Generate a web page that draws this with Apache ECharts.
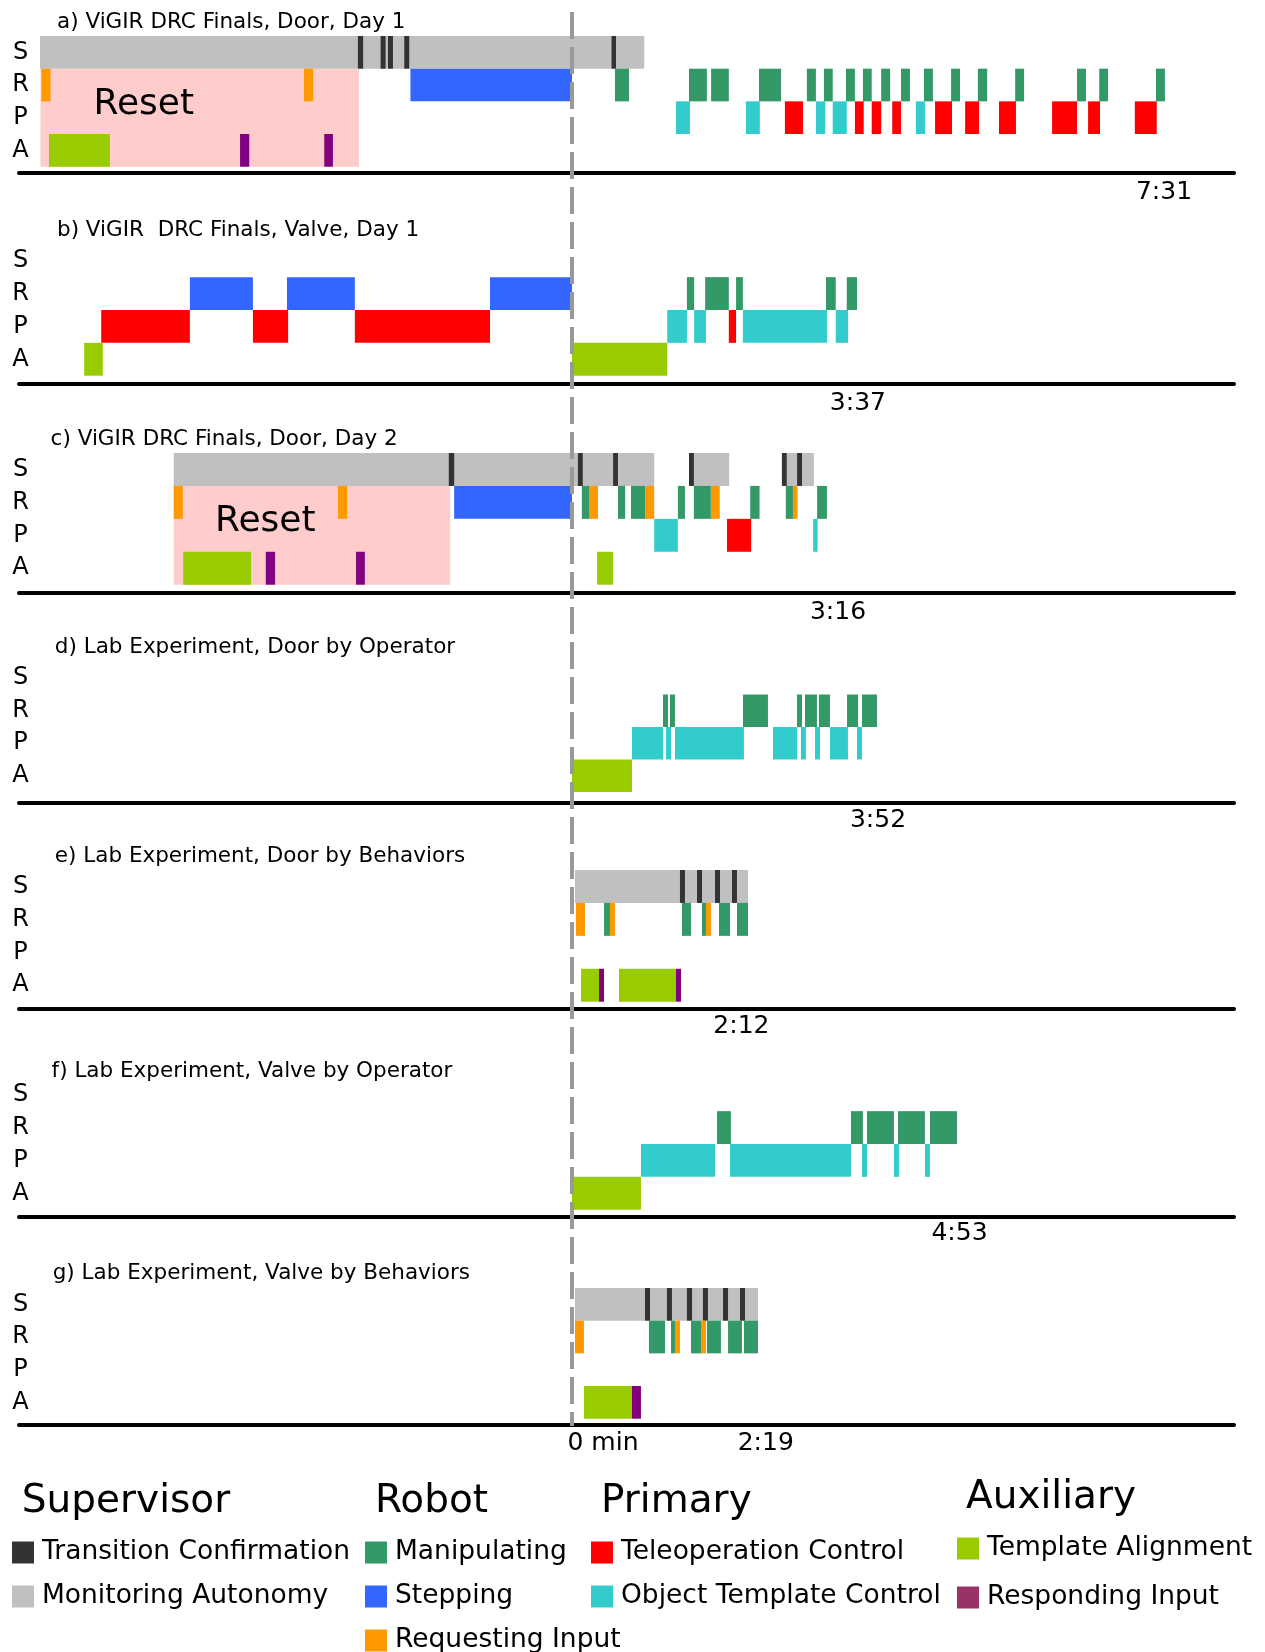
<!DOCTYPE html>
<html lang="en">
<head>
<meta charset="UTF-8">
<title>Operator timelines</title>
<script src="https://cdn.jsdelivr.net/npm/echarts@6/dist/echarts.min.js"></script>
</head>
<body style="margin:0">
<div id="container" style="width:1265px;height:1652px"></div>
<script>
// times in seconds, 0 = dashed line
var kindKeys = ['confirm', 'monitoring', 'manipulating', 'stepping', 'requesting', 'teleop', 'template', 'alignment', 'responding'];
var kindNames = ['Transition Confirmation', 'Monitoring Autonomy', 'Manipulating', 'Stepping', 'Requesting Input',
  'Teleoperation Control', 'Object Template Control', 'Template Alignment', 'Responding Input'];
var kindRows = [3, 3, 2, 2, 2, 1, 1, 0, 0]; // A=0 P=1 R=2 S=3
var barColors = ['#333333', '#c0c0c0', '#339966', '#3366ff', '#ff9900', '#ff0000', '#33cccc', '#99cc00', '#800080'];
var legendColors = ['#333333', '#c0c0c0', '#339966', '#3366ff', '#ff9900', '#ff0000', '#33cccc', '#99cc00', '#993366'];
var rowLabels = ['A', 'P', 'R', 'S'];

var panelTitles = ['a) ViGIR DRC Finals, Door, Day 1', 'b) ViGIR  DRC Finals, Valve, Day 1', 'c) ViGIR DRC Finals, Door, Day 2',
  'd) Lab Experiment, Door by Operator', 'e) Lab Experiment, Door by Behaviors', 'f) Lab Experiment, Valve by Operator',
  'g) Lab Experiment, Valve by Behaviors'];
var endLabelText = [['7:31'], ['3:37'], ['3:16'], ['3:52'], ['2:12'], ['4:53'], ['0 min', '2:19']];
var endLabelAt = [[450.7], [217.7], [202.5], [233], [129], [295], [23.6, 147.5]];

var doorDay1 = [
  ['monitoring', -405, 55],
  ['confirm', -163, -159], ['confirm', -145.7, -141.9], ['confirm', -140.1, -136.3], ['confirm', -127.7, -123.9], ['confirm', 30.1, 33.5],
  ['requesting', -404, -397], ['requesting', -204, -197],
  ['stepping', -123, 0],
  ['manipulating', 32.7, 43.4], ['manipulating', 89.1, 102.7], ['manipulating', 105.9, 119.4], ['manipulating', 142.4, 159.2],
  ['manipulating', 178.8, 185.7], ['manipulating', 191.8, 198.5], ['manipulating', 208.6, 215.4], ['manipulating', 221.5, 228.2],
  ['manipulating', 235.4, 242.2], ['manipulating', 250.5, 257.3], ['manipulating', 268, 274.8], ['manipulating', 288.6, 295.4],
  ['manipulating', 309, 316.1], ['manipulating', 337.4, 344.2], ['manipulating', 384.5, 391.3], ['manipulating', 401.4, 408.1],
  ['manipulating', 444.6, 451.4],
  ['template', 79.1, 89.8], ['template', 132.4, 143], ['template', 185.7, 192.8], ['template', 198.5, 209.2], ['template', 261.8, 268.7],
  ['teleop', 162.1, 175.9], ['teleop', 215.4, 222.1], ['teleop', 228.2, 235.4], ['teleop', 243.8, 250.5], ['teleop', 276.4, 289.3],
  ['teleop', 299.3, 309.9], ['teleop', 325.1, 338], ['teleop', 365.5, 384.5], ['teleop', 392.9, 402], ['teleop', 428.5, 445.2],
  ['alignment', -398.2, -351.8],
  ['responding', -252.7, -245.7], ['responding', -188.6, -182]
];
var valveDay1 = [
  ['stepping', -290.9, -242.9], ['stepping', -217, -165.3], ['stepping', -62.4, 0],
  ['teleop', -358.4, -290.9], ['teleop', -242.9, -216.1], ['teleop', -165.3, -62.4], ['teleop', 119.4, 124.9],
  ['alignment', -371.4, -357.2], ['alignment', 0, 72.5],
  ['manipulating', 87.5, 93], ['manipulating', 101.4, 119.4], ['manipulating', 124.9, 130.1], ['manipulating', 193.4, 200.8], ['manipulating', 209.2, 217],
  ['template', 72.5, 87.5], ['template', 93, 102], ['template', 130.1, 194.1], ['template', 200.8, 210.2]
];
var doorDay2 = [
  ['monitoring', -303.2, 62.6], ['monitoring', 89.5, 119.7], ['monitoring', 160.5, 184.2],
  ['confirm', -93.8, -89.7], ['confirm', 4.5, 8.2], ['confirm', 31.3, 35], ['confirm', 89.1, 92.8], ['confirm', 159.8, 163.5], ['confirm', 171.4, 175.1],
  ['requesting', -303.2, -296.3], ['requesting', -178.1, -171.2], ['requesting', 13.3, 19.8], ['requesting', 55.8, 62.6],
  ['requesting', 105.7, 112.5], ['requesting', 168.2, 171.7],
  ['stepping', -89.7, 0],
  ['manipulating', 7.5, 13.3], ['manipulating', 35, 40.5], ['manipulating', 44.9, 55.8], ['manipulating', 80.6, 86],
  ['manipulating', 92.8, 105.7], ['manipulating', 135.7, 142.8], ['manipulating', 162.8, 168.2], ['manipulating', 186.6, 194.1],
  ['template', 62.6, 80.6], ['template', 183.6, 187],
  ['teleop', 118, 136.4],
  ['alignment', -296, -244.3], ['alignment', 19.1, 31.3],
  ['responding', -233.1, -226], ['responding', -164.4, -157.7]
];
var doorOperator = [
  ['alignment', 0, 45.7],
  ['template', 45.7, 69.3], ['template', 71.6, 75.4], ['template', 78.4, 130.9], ['template', 153, 171.5],
  ['template', 174.3, 178.1], ['template', 185, 188.8], ['template', 196.4, 210.1], ['template', 217, 220.8],
  ['manipulating', 69.3, 73.1], ['manipulating', 74.6, 78.4], ['manipulating', 130.2, 149.2], ['manipulating', 171.3, 175.1],
  ['manipulating', 177.4, 186.5], ['manipulating', 188, 196.4], ['manipulating', 209.4, 217.8], ['manipulating', 220.8, 232.2]
];
var doorBehaviors = [
  ['monitoring', 2.3, 134],
  ['confirm', 82.2, 86], ['confirm', 95.2, 99], ['confirm', 108.9, 112.7], ['confirm', 121.8, 125.6],
  ['requesting', 3, 9.9], ['requesting', 28.9, 32.7], ['requesting', 102, 105.8],
  ['manipulating', 24.4, 28.9], ['manipulating', 83.7, 90.6], ['manipulating', 99, 102], ['manipulating', 111.9, 120.3], ['manipulating', 125.6, 134],
  ['alignment', 6.9, 20.6], ['alignment', 35.8, 79.2],
  ['responding', 20.6, 24.4], ['responding', 79.2, 83]
];
var valveOperator = [
  ['alignment', 0, 52.5],
  ['template', 52.5, 108.9], ['template', 120.3, 212.4], ['template', 220.8, 224.6], ['template', 245.1, 248.9], ['template', 268.7, 272.5],
  ['manipulating', 110.4, 121], ['manipulating', 212.4, 221.5], ['manipulating', 224.6, 245.1], ['manipulating', 248.2, 268.7], ['manipulating', 272.5, 293.1]
];
var valveBehaviors = [
  ['monitoring', 2.3, 141.6],
  ['confirm', 55.6, 59.4], ['confirm', 72.3, 76.1], ['confirm', 87.5, 91.4], ['confirm', 99.7, 103.5], ['confirm', 115, 118.8], ['confirm', 127.9, 131.7],
  ['requesting', 2.3, 9.1], ['requesting', 78.4, 82.2], ['requesting', 98.2, 102],
  ['manipulating', 58.6, 70.8], ['manipulating', 75.4, 78.4], ['manipulating', 90.6, 98.2], ['manipulating', 102.8, 113.4],
  ['manipulating', 118.8, 129.4], ['manipulating', 130.9, 141.6],
  ['alignment', 9.1, 45.7],
  ['responding', 45.7, 52.5]
];
// [start, end, label start]
var resetDoorDay1 = [-404.6, -162.2, -363.5];
var resetDoorDay2 = [-303.2, -92.7, -271];

var panels = [doorDay1, valveDay1, doorDay2, doorOperator, doorBehaviors, valveOperator, valveBehaviors];
var resets = [resetDoorDay1, null, resetDoorDay2, null, null, null, null];

// layout (px)
var tops = [36, 244.3, 453, 662, 870, 1078.3, 1288];
var heights = [130.7, 131.4, 131.7, 130, 131.7, 131.4, 130.7];
var lineOffsets = [5.6, 8, 7.6, 10.5, 6.6, 7, 5.6];
var labelMargins = [7.5, 7, 7.5, 5.5, 5.7, 4.5, 6.4];
var titleLeft = [57, 57, 50.6, 54.8, 54.8, 51.6, 52.7];
var titleTop = [11, 219.5, 428.5, 636.6, 845, 1060, 1262];
var X_MIN = -421, X_MAX = 504;
var FONT = 'DejaVu Sans';

var myChart = echarts.init(document.getElementById('container'));

function renderBar(params, api) {
  var s = api.coord([api.value(0), api.value(2)]);
  var e = api.coord([api.value(1), api.value(2)]);
  var h = api.size([0, 1])[1];
  return {
    type: 'rect',
    shape: { x: s[0], y: s[1] - h / 2, width: e[0] - s[0], height: h },
    style: { fill: barColors[api.value(3)] }
  };
}

function renderReset(params, api) {
  var h = api.size([0, 1])[1];
  var topLeft = api.coord([api.value(0), 2]);
  var bottomRight = api.coord([api.value(1), 0]);
  var y0 = topLeft[1] - h / 2;
  var y1 = bottomRight[1] + h / 2;
  var tx = api.coord([api.value(3), 1])[0];
  return {
    type: 'group',
    children: [
      { type: 'rect', shape: { x: topLeft[0], y: y0, width: bottomRight[0] - topLeft[0], height: y1 - y0 }, style: { fill: '#ffcccc' } },
      { type: 'text', x: tx - 1, y: topLeft[1] + h / 2 + 3, style: { text: 'Reset', fontSize: 36, fontFamily: FONT, fill: '#000', align: 'left', verticalAlign: 'middle' } }
    ]
  };
}

var grids = [], xAxes = [], yAxes = [], series = [], titles = [];
panels.forEach(function (items, i) {
  grids.push({ left: 19, right: 31, top: tops[i], height: heights[i] });
  var texts = endLabelText[i];
  var at = endLabelAt[i];
  xAxes.push({
    gridIndex: i, type: 'value', min: X_MIN, max: X_MAX, offset: lineOffsets[i],
    axisLine: { show: true, onZero: false, lineStyle: { color: '#000', width: 4 } },
    axisTick: { show: false }, splitLine: { show: false },
    axisLabel: {
      customValues: at, color: '#000', fontSize: 25, fontFamily: FONT, margin: labelMargins[i],
      formatter: function (v) { return texts[at.indexOf(v)]; }
    }
  });
  yAxes.push({
    gridIndex: i, type: 'category', data: rowLabels,
    axisLine: { show: false }, axisTick: { show: false }, splitLine: { show: false },
    axisLabel: { interval: 0, color: '#000', fontSize: 24, fontFamily: FONT, align: 'center', margin: -1.5, padding: [5, 0, 0, 0] }
  });
  if (resets[i]) {
    var r = resets[i];
    series.push({
      type: 'custom', xAxisIndex: i, yAxisIndex: i, z: 1, silent: true,
      data: [[r[0], r[1], 0, r[2]]], encode: { x: [0, 1, 3], y: 2 }, renderItem: renderReset
    });
  }
  var rows = items.map(function (d) {
    var k = kindKeys.indexOf(d[0]);
    return [d[1], d[2], kindRows[k], k];
  }).sort(function (a, b) { return (a[3] === 1 ? 0 : 1) - (b[3] === 1 ? 0 : 1); });
  series.push({
    type: 'custom', xAxisIndex: i, yAxisIndex: i, z: 2, silent: true,
    data: rows, encode: { x: [0, 1], y: 2 }, renderItem: renderBar
  });
  titles.push({
    text: panelTitles[i], left: titleLeft[i], top: titleTop[i], padding: 0,
    textStyle: { fontSize: 21.5, fontWeight: 'normal', color: '#000', fontFamily: FONT }
  });
});

// overlay grid for the dashed zero line and legend series
grids.push({ left: 19, right: 31, top: 12, height: 1414 });
xAxes.push({ gridIndex: 7, type: 'value', min: X_MIN, max: X_MAX, show: false });
yAxes.push({ gridIndex: 7, type: 'value', min: 0, max: 1, show: false });
series.push({
  type: 'custom', xAxisIndex: 7, yAxisIndex: 7, z: 10, silent: true,
  data: [[0, 0]],
  renderItem: function (params, api) {
    var cs = params.coordSys;
    var x = api.coord([api.value(0), 0])[0];
    return {
      type: 'line',
      shape: { x1: x, y1: cs.y, x2: x, y2: cs.y + cs.height },
      style: { stroke: '#999999', lineWidth: 4, lineDash: [27, 8] }
    };
  }
});
kindNames.forEach(function (name, k) {
  series.push({ type: 'scatter', name: name, xAxisIndex: 7, yAxisIndex: 7, data: [], itemStyle: { color: legendColors[k], opacity: 1 } });
});

var headers = [['Supervisor', 21.8, 1482], ['Robot', 375, 1482], ['Primary', 601, 1482], ['Auxiliary', 966, 1478.5]];
headers.forEach(function (h) {
  titles.push({ text: h[0], left: h[1], top: h[2], padding: 0, textStyle: { fontSize: 39, fontWeight: 'normal', color: '#000', fontFamily: FONT } });
});

function makeLegend(names, left, top, gap) {
  return {
    data: names, left: left, top: top, height: 200, orient: 'vertical', padding: 0, itemGap: gap,
    icon: 'rect', itemWidth: 22, itemHeight: 22, selectedMode: false,
    textStyle: { fontSize: 26.5, color: '#000', fontFamily: FONT, lineHeight: 22, padding: [0, 0, 0, 3] }
  };
}

myChart.setOption({
  backgroundColor: '#fff',
  animation: false,
  textStyle: { fontFamily: FONT },
  title: titles,
  grid: grids,
  xAxis: xAxes,
  yAxis: yAxes,
  legend: [
    makeLegend(kindNames.slice(0, 2), 12, 1539, 17),
    makeLegend(kindNames.slice(2, 5), 365, 1539, 17),
    makeLegend(kindNames.slice(5, 7), 591, 1539, 17),
    makeLegend(kindNames.slice(7, 9), 957, 1535, 22)
  ],
  series: series
});
</script>
</body>
</html>
